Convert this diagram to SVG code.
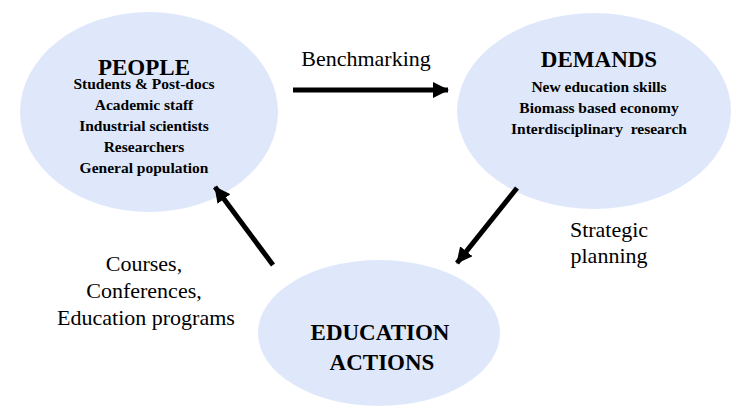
<svg xmlns="http://www.w3.org/2000/svg" width="731" height="407" viewBox="0 0 731 407">
  <defs>
    <marker id="head" markerUnits="userSpaceOnUse" markerWidth="18" markerHeight="16" refX="15" refY="8" orient="auto">
      <polygon points="0,0 16,8 0,16" fill="#000"/>
    </marker>
    <style>
      .bubble { fill: #dfe8fb; }
      text { font-family: 'Liberation Serif', 'Times New Roman', serif; fill: #000; text-anchor: middle; }
      .title { font-weight: bold; font-size: 23px; }
      .item { font-weight: bold; font-size: 15.5px; }
      .label { font-size: 22px; }
      .link { stroke: #000; stroke-width: 5; fill: none; marker-end: url(#head); }
    </style>
  </defs>

  <rect width="731" height="407" fill="#fff"/>

  <g id="people">
    <ellipse class="bubble" cx="149" cy="112" rx="129" ry="100"/>
    <text class="title" x="144" y="75">PEOPLE</text>
    <text class="item" x="144" y="89">Students &amp; Post-docs</text>
    <text class="item" x="144" y="110">Academic staff</text>
    <text class="item" x="144" y="131">Industrial scientists</text>
    <text class="item" x="144" y="152">Researchers</text>
    <text class="item" x="144" y="173">General population</text>
  </g>

  <g id="demands">
    <ellipse class="bubble" cx="594" cy="111" rx="137" ry="98"/>
    <text class="title" x="599" y="67">DEMANDS</text>
    <text class="item" x="599" y="92">New education skills</text>
    <text class="item" x="599" y="113">Biomass based economy</text>
    <text class="item" x="599" y="134" xml:space="preserve">Interdisciplinary  research</text>
  </g>

  <g id="education-actions">
    <ellipse class="bubble" cx="379" cy="333" rx="121" ry="73"/>
    <text class="title" x="380" y="340">EDUCATION</text>
    <text class="title" x="382" y="370">ACTIONS</text>
  </g>

  <g id="connectors">
    <line class="link" x1="293" y1="90" x2="448" y2="90"/>
    <line class="link" x1="517" y1="188" x2="457" y2="263"/>
    <line class="link" x1="273" y1="265" x2="215" y2="187"/>
    <text class="label" x="366" y="66">Benchmarking</text>
    <text class="label" x="609" y="237">Strategic</text>
    <text class="label" x="609" y="263">planning</text>
    <text class="label" x="144" y="271">Courses,</text>
    <text class="label" x="144" y="298">Conferences,</text>
    <text class="label" x="146" y="325">Education programs</text>
  </g>
</svg>
